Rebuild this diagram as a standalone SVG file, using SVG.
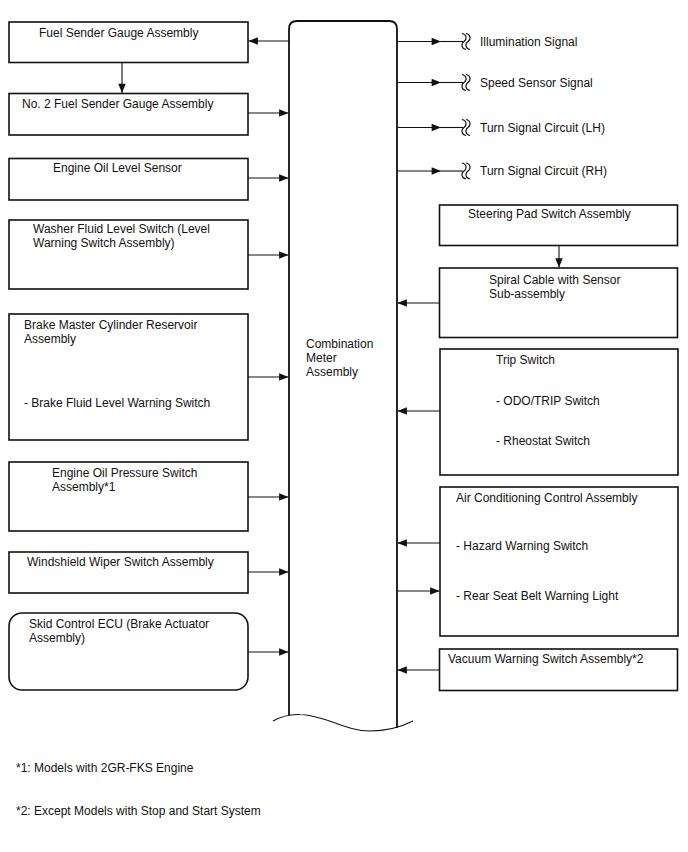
<svg xmlns="http://www.w3.org/2000/svg" width="688" height="852" viewBox="0 0 688 852">
<style>
text{font-family:"Liberation Sans",Arial,sans-serif;font-size:12px;fill:#111}
.box{fill:#fff;stroke:#111;stroke-width:1.6}
.ln{fill:none;stroke:#111;stroke-width:1.1}
.arr{fill:none;stroke:#111;stroke-width:1.1;marker-end:url(#ah)}
</style>
<defs>
<marker id="ah" viewBox="0 0 10 8" refX="10" refY="4" markerWidth="10" markerHeight="7.5" orient="auto" markerUnits="userSpaceOnUse"><path d="M0 0 L10 4 L0 8 z" fill="#111"/></marker>
<path id="sq" d="M0 -8 C5 -7 5 -2 2 0 C-1 2 -1 7 4 8 M4 -8 C9 -7 9 -2 6 0 C3 2 3 7 8 8" fill="none" stroke="#111" stroke-width="1.1"/>
</defs>
<rect width="688" height="852" fill="#fff"/>

<g id="center">
<path d="M289 715 L289 29 Q289 21 297 21 L389 21 Q397 21 397 29 L397 728" fill="none" stroke="#111" stroke-width="1.8"/>
<path d="M273 721 C282 716 290 714 300 714.5 C325 715 345 731 370 731 C390 731 403 726 413 721" fill="none" stroke="#111" stroke-width="1.1"/>
<text x="306" y="348">Combination</text>
<text x="306" y="362">Meter</text>
<text x="306" y="376">Assembly</text>
</g>

<g id="fuel1"><rect class="box" x="9" y="22" width="239" height="40.5"/><text x="39" y="37">Fuel Sender Gauge Assembly</text></g>
<g id="fuel2"><rect class="box" x="9" y="93.5" width="239" height="41.5"/><text x="22" y="108">No. 2 Fuel Sender Gauge Assembly</text></g>
<g id="oillevel"><rect class="box" x="9" y="158.5" width="239" height="41.5"/><text x="53" y="172">Engine Oil Level Sensor</text></g>
<g id="washer"><rect class="box" x="9" y="220" width="239" height="69"/><text x="33" y="233">Washer Fluid Level Switch (Level</text><text x="33" y="247">Warning Switch Assembly)</text></g>
<g id="brake"><rect class="box" x="9" y="314" width="239" height="126"/><text x="24" y="329">Brake Master Cylinder Reservoir</text><text x="24" y="343">Assembly</text><text x="24" y="407">- Brake Fluid Level Warning Switch</text></g>
<g id="oilpress"><rect class="box" x="9" y="462" width="239" height="69"/><text x="52" y="477">Engine Oil Pressure Switch</text><text x="52" y="491">Assembly*1</text></g>
<g id="wiper"><rect class="box" x="9" y="552" width="239" height="41"/><text x="27" y="566">Windshield Wiper Switch Assembly</text></g>
<g id="skid"><rect class="box" x="9" y="613" width="239" height="77" rx="13" ry="13"/><text x="29" y="628">Skid Control ECU (Brake Actuator</text><text x="29" y="642">Assembly)</text></g>

<g id="steering"><rect class="box" x="439.5" y="205" width="238" height="40.5"/><text x="468" y="218">Steering Pad Switch Assembly</text></g>
<g id="spiral"><rect class="box" x="439.5" y="268" width="238" height="69.5"/><text x="489" y="284">Spiral Cable with Sensor</text><text x="489" y="298">Sub-assembly</text></g>
<g id="trip"><rect class="box" x="440" y="349" width="238" height="126"/><text x="496" y="364">Trip Switch</text><text x="496" y="405">- ODO/TRIP Switch</text><text x="496" y="444.5">- Rheostat Switch</text></g>
<g id="ac"><rect class="box" x="440" y="487" width="238" height="149"/><text x="456" y="501.5">Air Conditioning Control Assembly</text><text x="456" y="550">- Hazard Warning Switch</text><text x="456" y="600">- Rear Seat Belt Warning Light</text></g>
<g id="vacuum"><rect class="box" x="439.5" y="649" width="238" height="41.5"/><text x="448" y="663">Vacuum Warning Switch Assembly*2</text></g>

<g id="signals">
<text x="480" y="45.5">Illumination Signal</text>
<text x="480" y="86.5">Speed Sensor Signal</text>
<text x="480" y="131.5">Turn Signal Circuit (LH)</text>
<text x="480" y="175">Turn Signal Circuit (RH)</text>
</g>

<g id="connectors">
<path class="arr" d="M289 41 L248.5 41"/>
<path class="arr" d="M122 62.5 L122 93"/>
<path class="arr" d="M248 113 L288.5 113"/>
<path class="arr" d="M248 178 L288.5 178"/>
<path class="arr" d="M248 255 L288.5 255"/>
<path class="arr" d="M248 377 L288.5 377"/>
<path class="arr" d="M248 497 L288.5 497"/>
<path class="arr" d="M248 572 L288.5 572"/>
<path class="arr" d="M248 652 L288.5 652"/>

<path class="arr" d="M397 41.5 L441 41.5"/><path class="ln" d="M441 41.5 L463 41.5"/>
<path class="arr" d="M397 82.5 L441 82.5"/><path class="ln" d="M441 82.5 L463 82.5"/>
<path class="arr" d="M397 127.5 L441 127.5"/><path class="ln" d="M441 127.5 L463 127.5"/>
<path class="arr" d="M397 171 L441 171"/><path class="ln" d="M441 171 L463 171"/>
<use href="#sq" x="462" y="41.5"/>
<use href="#sq" x="462" y="82.5"/>
<use href="#sq" x="462" y="127.5"/>
<use href="#sq" x="462" y="171"/>

<path class="arr" d="M559 245.5 L559 267.5"/>
<path class="arr" d="M439.5 303 L397.5 303"/>
<path class="arr" d="M440 411 L397.5 411"/>
<path class="arr" d="M440 543 L397.5 543"/>
<path class="arr" d="M397 591 L439.5 591"/>
<path class="arr" d="M439.5 670 L397.5 670"/>
</g>

<g id="notes">
<text x="16" y="771.5">*1: Models with 2GR-FKS Engine</text>
<text x="16" y="814.5">*2: Except Models with Stop and Start System</text>
</g>
</svg>
